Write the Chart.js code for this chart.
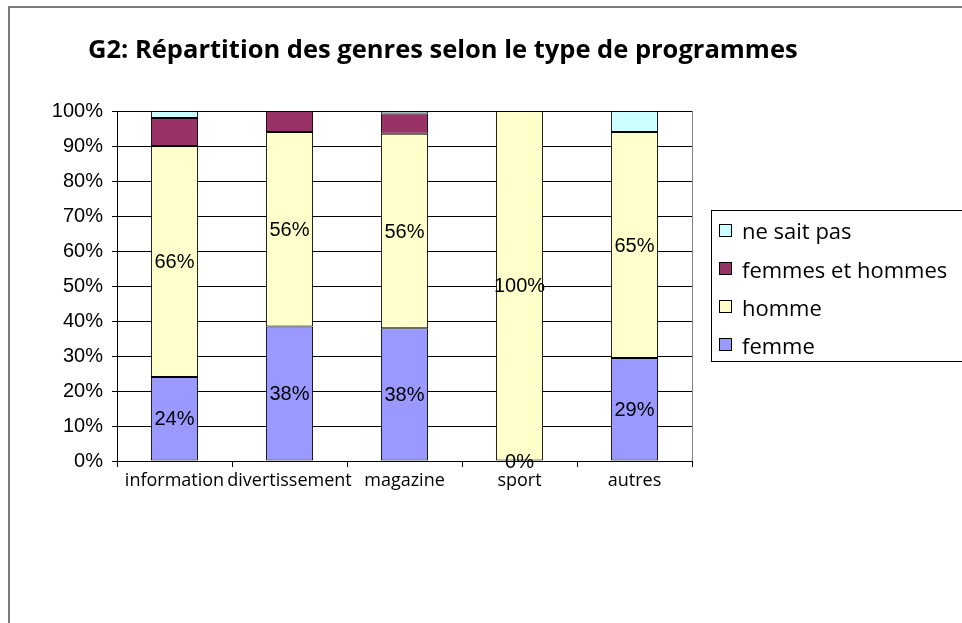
<!DOCTYPE html>
<html>
<head>
<meta charset="utf-8">
<title>G2</title>
<script src="https://cdn.jsdelivr.net/npm/chart.js"></script>
<style>
    body { margin: 0; background: white; }
    canvas { display: block; }
</style>
</head>
<body>
<canvas id="chart" width="962" height="623"></canvas>
<script>
// categories and values (percent)
const categories = ['information', 'divertissement', 'magazine', 'sport', 'autres'];
const femme = [24, 38.4, 37.9, 0, 29.4];
const homme = [66, 55.6, 55.6, 100, 64.6];
const femmesEtHommes = [8, 6, 5.8, 0, 0];
const neSaitPas = [2, 0, 0.7, 0, 6];
const yTicks = [0, 10, 20, 30, 40, 50, 60, 70, 80, 90, 100];

const TITLE = 'G2: Répartition des genres selon le type de programmes';
const SANS = "'Open Sans', 'Noto Sans', sans-serif";
const ARIAL = "'Liberation Sans', Arial, sans-serif";

// white background, frame, plot border and title
const frame = {
    id: 'frame',
    beforeDraw(chart) {
        const ctx = chart.ctx;
        const a = chart.chartArea;
        ctx.save();
        ctx.fillStyle = '#fff';
        ctx.fillRect(0, 0, chart.width, chart.height);
        ctx.strokeStyle = '#7a7a7a';
        ctx.lineWidth = 2;
        ctx.beginPath();
        ctx.moveTo(9, chart.height);
        ctx.lineTo(9, 7);
        ctx.lineTo(chart.width, 7);
        ctx.stroke();
        ctx.strokeStyle = '#808080';
        ctx.lineWidth = 1;
        ctx.strokeRect(a.left + 0.5, a.top + 0.5, a.right - a.left, a.bottom - a.top);
        ctx.fillStyle = '#000';
        ctx.font = 'bold 25.5px ' + SANS;
        ctx.textBaseline = 'alphabetic';
        ctx.textAlign = 'left';
        ctx.fillText(TITLE, 88, 58);
        ctx.restore();
    }
};

// percent labels on femme and homme segments
const segLabels = {
    id: 'segLabels',
    afterDraw(chart) {
        const ctx = chart.ctx;
        ctx.save();
        ctx.fillStyle = '#000';
        ctx.font = '20px ' + ARIAL;
        ctx.textAlign = 'center';
        ctx.textBaseline = 'middle';
        [0, 1].forEach(i => {
            const ds = chart.data.datasets[i];
            chart.getDatasetMeta(i).data.forEach((bar, j) => {
                const p = bar.getCenterPoint();
                ctx.fillText(Math.round(ds.data[j]) + '%', p.x, p.y + 1);
            });
        });
        ctx.restore();
    }
};

// boxed legend at the right, top series first
const boxLegend = {
    id: 'boxLegend',
    afterDraw(chart) {
        const ctx = chart.ctx;
        const left = 711, top = 210, bottom = 361;
        ctx.save();
        ctx.strokeStyle = '#000';
        ctx.lineWidth = 1;
        ctx.strokeRect(left + 0.5, top + 0.5, chart.width, bottom - top);
        ctx.font = '22px ' + SANS;
        ctx.textBaseline = 'middle';
        ctx.textAlign = 'left';
        const items = chart.data.datasets.slice().reverse();
        items.forEach((ds, k) => {
            const cy = 230 + k * 38.3;
            const sy = Math.round(cy - 6.5);
            ctx.fillStyle = ds.backgroundColor;
            ctx.fillRect(719, sy, 13, 13);
            ctx.strokeStyle = '#000';
            ctx.strokeRect(719.5, sy + 0.5, 12, 12);
            ctx.fillStyle = '#000';
            ctx.fillText(ds.label, 742, cy + 3);
        });
        ctx.restore();
    }
};

const bar = (label, data, color) => ({
    label: label,
    data: data,
    backgroundColor: color,
    borderColor: '#000',
    borderWidth: 1,
    borderSkipped: false,
    categoryPercentage: 1,
    barPercentage: 0.41
});

new Chart(document.getElementById('chart'), {
    type: 'bar',
    data: {
        labels: categories,
        datasets: [
            bar('femme', femme, '#9999ff'),
            bar('homme', homme, '#ffffcc'),
            bar('femmes et hommes', femmesEtHommes, '#993366'),
            bar('ne sait pas', neSaitPas, '#ccffff')
        ]
    },
    options: {
        responsive: false,
        animation: false,
        devicePixelRatio: 1,
        layout: { padding: { left: 0, top: 111, right: 270, bottom: 132 } },
        plugins: {
            legend: { display: false },
            title: { display: false },
            tooltip: { enabled: false }
        },
        scales: {
            x: {
                stacked: true,
                grid: { drawOnChartArea: false, drawTicks: true, tickLength: 6, color: '#000', offset: true },
                border: { color: '#000' },
                ticks: { color: '#000', font: { family: SANS, size: 18 }, padding: 3, maxRotation: 0, autoSkip: false },
                afterFit(s) { s.height = 30; }
            },
            y: {
                stacked: true,
                min: 0,
                max: 100,
                afterBuildTicks(s) { s.ticks = yTicks.map(v => ({ value: v })); },
                grid: { color: '#000', tickLength: 5 },
                border: { color: '#000' },
                ticks: {
                    color: '#000',
                    font: { family: ARIAL, size: 20 },
                    padding: 9,
                    callback: v => v + '%'
                },
                afterFit(s) { s.width = 117; }
            }
        }
    },
    plugins: [frame, segLabels, boxLegend]
});
</script>
</body>
</html>
